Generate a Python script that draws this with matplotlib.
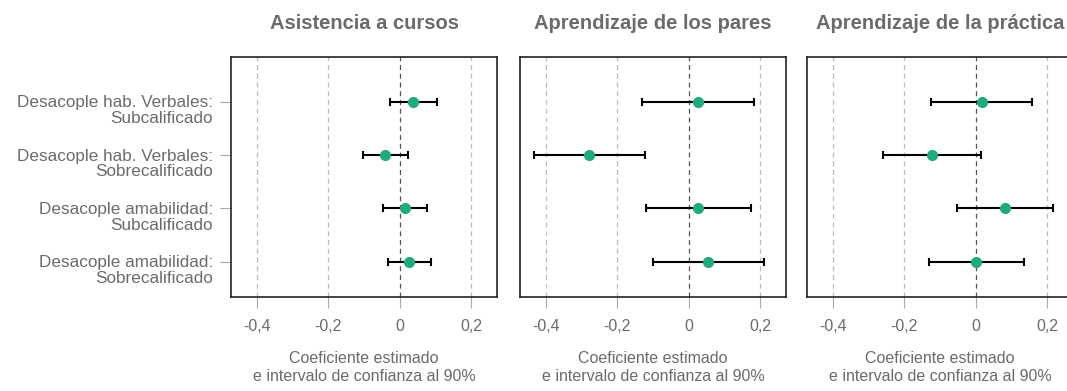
import matplotlib
matplotlib.use("Agg")
import matplotlib.pyplot as plt
import matplotlib.transforms as mtransforms
import numpy as np

plt.rcParams['font.family'] = ['Liberation Sans', 'DejaVu Sans']

# Data
categories = [
    "Desacople hab. Verbales:\nSubcalificado",
    "Desacople hab. Verbales:\nSobrecalificado",
    "Desacople amabilidad:\nSubcalificado",
    "Desacople amabilidad:\nSobrecalificado",
]
panel_titles = ["Asistencia a cursos", "Aprendizaje de los pares", "Aprendizaje de la práctica"]

cursos_est = [0.037, -0.040, 0.016, 0.027]
cursos_lo = [-0.027, -0.104, -0.046, -0.034]
cursos_hi = [0.104, 0.023, 0.077, 0.087]

pares_est = [0.026, -0.280, 0.027, 0.054]
pares_lo = [-0.131, -0.435, -0.120, -0.101]
pares_hi = [0.184, -0.122, 0.174, 0.211]

practica_est = [0.017, -0.122, 0.081, 0.000]
practica_lo = [-0.124, -0.260, -0.052, -0.132]
practica_hi = [0.159, 0.016, 0.216, 0.135]

x_ticks = [-0.4, -0.2, 0, 0.2]
x_tick_labels = ["-0,4", "-0,2", "0", "0,2"]
x_label = "Coeficiente estimado\ne intervalo de confianza al 90%"

panels = [
    (cursos_est, cursos_lo, cursos_hi),
    (pares_est, pares_lo, pares_hi),
    (practica_est, practica_lo, practica_hi),
]

GREEN = "#1fab7b"
GREY_TXT = "#6b6b6b"

fig = plt.figure(figsize=(10.67, 3.91), dpi=100)

W, H = 1067, 391
lefts = [231, 520, 807]
ax_w, top, bottom = 266, 57, 297

ypos = np.arange(len(categories))[::-1] + 1  # top row at 4

for i, (est, lo, hi) in enumerate(panels):
    ax = fig.add_axes([lefts[i] / W, (H - bottom) / H, ax_w / W, (bottom - top) / H])
    est = np.array(est)
    err = np.vstack([est - np.array(lo), np.array(hi) - est])

    for xv in x_ticks:
        if xv == 0:
            ax.axvline(xv, color="#555555", ls=(0, (4, 3)), lw=0.9, zorder=1)
        else:
            ax.axvline(xv, color="#bdbdbd", ls=(0, (4, 3)), lw=0.9, zorder=1)

    ax.errorbar(est, ypos, xerr=err, fmt="none", ecolor="black",
                elinewidth=1.5, capsize=3.2, capthick=1.5, zorder=2)
    ax.plot(est, ypos, "o", color=GREEN, ms=7, zorder=3)

    ax.set_xlim(-0.473, 0.273)
    ax.set_ylim(0.34, 4.84)
    ax.set_xticks(x_ticks)
    ax.set_xticklabels(x_tick_labels)
    ax.tick_params(axis="x", colors="#aaaaaa", labelcolor=GREY_TXT, labelsize=11.5,
                   length=8, width=0.8, pad=8)
    if i == 0:
        ax.set_yticks(ypos)
        ax.set_yticklabels(categories, ha="right", linespacing=1.05)
        ax.tick_params(axis="y", colors="#aaaaaa", labelcolor=GREY_TXT, labelsize=12.3,
                       length=8, width=0.8, pad=5)
        # labels sit a bit below their tick, first line level with it
        shift = mtransforms.ScaledTranslation(0, -7 / 100, fig.dpi_scale_trans)
        for lab in ax.get_yticklabels():
            lab.set_transform(lab.get_transform() + shift)
    else:
        ax.set_yticks([])

    for s in ax.spines.values():
        s.set_color("#222222")
        s.set_linewidth(1.2)

    ax.set_title(panel_titles[i], fontsize=14.5, fontweight="bold", color=GREY_TXT, pad=20)
    ax.set_xlabel(x_label, fontsize=11.5, color=GREY_TXT, labelpad=12, linespacing=1.3)

fig.savefig("out.png", dpi=100)
